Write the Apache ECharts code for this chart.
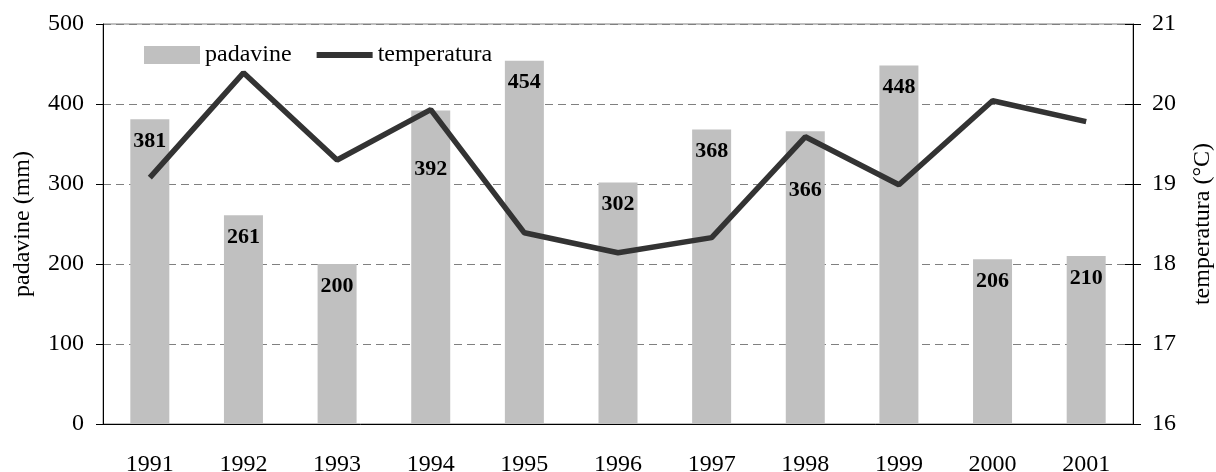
<!DOCTYPE html>
<title>padavine</title>
<style>
body {
    margin: 0;
}
#echart {
    height: 472px;
    width: 1216px;
}
</style>
<div id='echart'></div>
<script src='https://cdn.jsdelivr.net/npm/echarts@6/dist/echarts.min.js'></script>
<script>
let years = ['1991', '1992', '1993', '1994', '1995', '1996', '1997', '1998', '1999', '2000', '2001']
let padavine = [381, 261, 200, 392, 454, 302, 368, 366, 448, 206, 210]
let temperatura = [19.08, 20.39, 19.3, 19.93, 18.39, 18.14, 18.33, 19.59, 18.99, 20.04, 19.78]
let lowered = ['1994', '1998']

let FONT = '"Times New Roman", "Liberation Serif", serif'
let echart = echarts.init(document.querySelector('#echart'))
let text = {color: '#000', fontFamily: FONT, fontSize: 24}
let split = {show: true, lineStyle: {color: '#808080', type: [8, 5], width: 1}}
let option = {
    animation: false,
    grid: {left: 103, right: 83, top: 24, bottom: 48, show: true, borderColor: '#808080', borderWidth: 1, outerBoundsMode: 'none', containLabel: false},
    legend: {
        left: 139, top: 38, itemWidth: 56, itemHeight: 18, itemGap: 25,
        textStyle: {...text, padding: [2, 0, 0, 0]},
        data: [
            {name: 'padavine', icon: 'rect'},
            {name: 'temperatura', icon: 'path://M0 0H56V6H0Z'},
        ],
    },
    xAxis: [
        {
            type: 'category', data: years,
            axisLine: {lineStyle: {color: '#000', width: 1}},
            axisTick: {length: 8, lineStyle: {color: '#000'}},
            axisLabel: {...text, margin: 29},
        },
        {
            type: 'category', data: years, position: 'bottom',
            axisLine: {show: false},
            axisTick: {inside: true, length: 8, lineStyle: {color: '#000'}},
            axisLabel: {show: false},
        },
    ],
    yAxis: [
        {
            type: 'value', min: 0, max: 500, interval: 100, position: 'left',
            name: 'padavine (mm)', nameLocation: 'middle', nameGap: 68, nameTextStyle: text,
            axisLine: {show: true, lineStyle: {color: '#000'}},
            axisTick: {show: true, length: 7, lineStyle: {color: '#000'}},
            axisLabel: {...text, margin: 19},
            splitLine: split,
        },
        {
            type: 'value', min: 16, max: 21, interval: 1, position: 'right',
            name: 'temperatura (°C)', nameLocation: 'middle', nameGap: 58, nameRotate: 90, nameTextStyle: text,
            axisLine: {show: true, lineStyle: {color: '#000'}},
            axisTick: {show: true, length: 8, lineStyle: {color: '#000'}},
            axisLabel: {...text, margin: 19},
            splitLine: {show: false},
        },
        {
            type: 'value', min: 16, max: 21, interval: 1, position: 'right',
            axisLine: {show: false},
            axisTick: {show: true, inside: true, length: 8, lineStyle: {color: '#000'}},
            axisLabel: {show: false},
            splitLine: {show: false},
        },
    ],
    series: [
        {
            name: 'padavine', type: 'bar', barWidth: 39,
            itemStyle: {color: '#c0c0c0'},
            label: {show: true, position: 'insideTop', distance: 11, color: '#000', fontFamily: FONT, fontSize: 22, fontWeight: 'bold'},
            data: padavine.map((v, i) => ({value: v, label: {offset: [0, lowered.includes(years[i]) ? 37 : 0]}})),
            z: 1,
        },
        {
            name: 'temperatura', type: 'line', yAxisIndex: 1, data: temperatura,
            showSymbol: false, symbol: 'none',
            lineStyle: {color: '#333333', width: 5.5},
            itemStyle: {color: '#333333'},
            z: 5,
        },
    ],
}
echart.setOption(option)
</script>
